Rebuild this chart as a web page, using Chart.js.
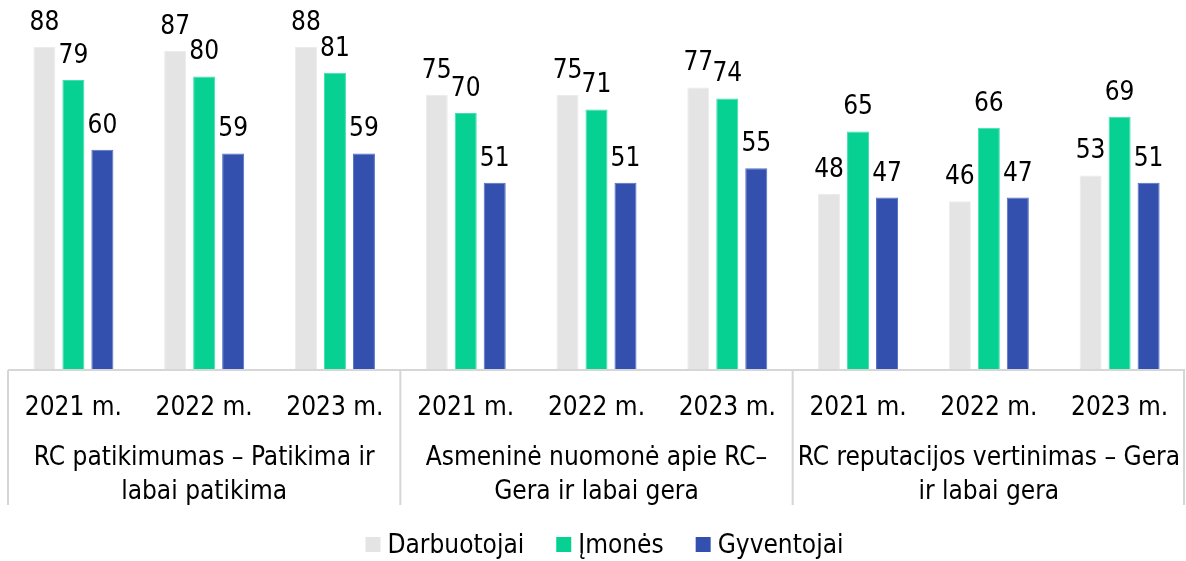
<!DOCTYPE html>
<html>
<head>
<meta charset="utf-8">
<script src="https://cdn.jsdelivr.net/npm/chart.js@4.4.1/dist/chart.umd.min.js"></script>
<style>
  html, body { margin: 0; padding: 0; background: #ffffff; }
  #wrap { width: 1186px; height: 561px; position: relative; }
</style>
</head>
<body>
<div id="wrap"><canvas id="chart"></canvas></div>
<script>
// Survey results by year and question (percent)
const years = ['2021 m.', '2022 m.', '2023 m.', '2021 m.', '2022 m.', '2023 m.', '2021 m.', '2022 m.', '2023 m.'];
const groups = [
  ['RC patikimumas – Patikima ir', 'labai patikima'],
  ['Asmeninė nuomonė apie RC–', 'Gera ir labai gera'],
  ['RC reputacijos vertinimas – Gera', 'ir labai gera']
];
const seriesNames = ['Darbuotojai', 'Įmonės', 'Gyventojai'];
const darbuotojai = [88, 87, 88, 75, 75, 77, 48, 46, 53];
const imones      = [79, 80, 81, 70, 71, 74, 65, 66, 69];
const gyventojai  = [60, 59, 59, 51, 51, 55, 47, 47, 51];

const FONT = '"DejaVu Sans Condensed", "DejaVu Sans", sans-serif';
const FONT_SIZE = 26;
const colors = ['#e4e4e4', '#06d092', '#3350ae'];
const borders = ['#ececec', '#3fe0ad', '#5470c4'];
const AXIS_HEIGHT = 135;
const LEGEND_SPACE = 56;

// value labels above each bar
const valueLabels = {
  id: 'valueLabels',
  afterDatasetsDraw(chart) {
    const ctx = chart.ctx;
    ctx.save();
    ctx.font = FONT_SIZE + 'px ' + FONT;
    ctx.fillStyle = '#000000';
    ctx.textAlign = 'center';
    ctx.textBaseline = 'alphabetic';
    chart.data.datasets.forEach((ds, di) => {
      const meta = chart.getDatasetMeta(di);
      meta.data.forEach((bar, i) => {
        ctx.fillText(String(ds.data[i]), bar.x, bar.y - 17);
      });
    });
    ctx.restore();
  }
};

// bordered category axis with year labels and question labels
const groupAxis = {
  id: 'groupAxis',
  afterDraw(chart) {
    const ctx = chart.ctx;
    const x = chart.scales.x;
    const top = chart.chartArea.bottom;
    const bottom = top + AXIS_HEIGHT;
    const half = (x.getPixelForValue(1) - x.getPixelForValue(0)) / 2;
    ctx.save();
    ctx.strokeStyle = '#d6d6d6';
    ctx.lineWidth = 2;
    ctx.beginPath();
    ctx.moveTo(x.left, top);
    ctx.lineTo(x.right, top);
    for (let g = 0; g <= groups.length; g++) {
      let px;
      if (g === 0) px = x.left;
      else if (g === groups.length) px = x.right - 1;
      else px = x.getPixelForValue(g * 3) - half;
      ctx.moveTo(px, top);
      ctx.lineTo(px, bottom);
    }
    ctx.stroke();

    ctx.font = FONT_SIZE + 'px ' + FONT;
    ctx.fillStyle = '#000000';
    ctx.textAlign = 'center';
    ctx.textBaseline = 'alphabetic';
    for (let i = 0; i < years.length; i++) {
      ctx.fillText(years[i], x.getPixelForValue(i), top + 45);
    }
    groups.forEach((lines, g) => {
      const cx = x.getPixelForValue(g * 3 + 1);
      lines.forEach((t, li) => {
        ctx.fillText(t, cx, top + 95 + li * 34);
      });
    });
    ctx.restore();
  }
};

// legend row under the axis
const legendRow = {
  id: 'legendRow',
  afterDraw(chart) {
    const ctx = chart.ctx;
    const box = 15, gapText = 7, gapItem = 32;
    ctx.save();
    ctx.font = FONT_SIZE + 'px ' + FONT;
    const items = chart.data.datasets.map(ds => ({ text: ds.label, color: ds.backgroundColor, w: ctx.measureText(ds.label).width }));
    let total = 0;
    items.forEach((it, i) => { total += box + gapText + it.w + (i < items.length - 1 ? gapItem : 0); });
    const cx = (chart.chartArea.left + chart.chartArea.right) / 2 + 8;
    let px = cx - total / 2;
    const baseline = chart.height - 8;
    items.forEach(it => {
      ctx.fillStyle = it.color;
      ctx.fillRect(px, baseline - 16, box, box);
      px += box + gapText;
      ctx.fillStyle = '#000000';
      ctx.textAlign = 'left';
      ctx.textBaseline = 'alphabetic';
      ctx.fillText(it.text, px, baseline);
      px += it.w + gapItem;
    });
    ctx.restore();
  }
};

const data = {
  labels: years,
  datasets: [
    { label: seriesNames[0], data: darbuotojai, backgroundColor: colors[0], borderColor: borders[0], borderWidth: 1 },
    { label: seriesNames[1], data: imones, backgroundColor: colors[1], borderColor: borders[1], borderWidth: 1 },
    { label: seriesNames[2], data: gyventojai, backgroundColor: colors[2], borderColor: borders[2], borderWidth: 1 }
  ]
};

new Chart(document.getElementById('chart'), {
  type: 'bar',
  data,
  options: {
    responsive: true,
    maintainAspectRatio: false,
    animation: false,
    layout: { padding: { top: 3, left: 8, right: 1, bottom: LEGEND_SPACE } },
    datasets: { bar: { categoryPercentage: 0.665, barPercentage: 0.76 } },
    scales: {
      x: {
        grid: { display: false },
        border: { display: false },
        ticks: { display: false },
        afterFit(scale) { scale.height = AXIS_HEIGHT; }
      },
      y: {
        display: false,
        min: 0,
        max: 100
      }
    },
    plugins: {
      legend: { display: false },
      tooltip: { enabled: false }
    }
  },
  plugins: [valueLabels, groupAxis, legendRow]
});
</script>
</body>
</html>
